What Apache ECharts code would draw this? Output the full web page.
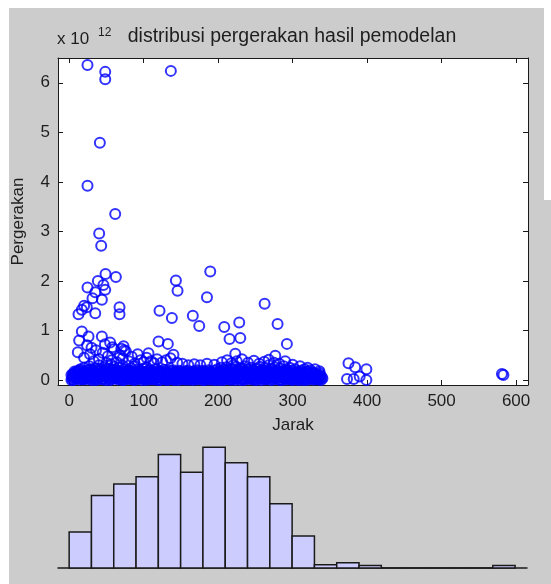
<!DOCTYPE html>
<html>
<head>
<meta charset="utf-8">
<script src="https://cdn.jsdelivr.net/npm/echarts@6/dist/echarts.min.js"></script>
<style>
html,body{margin:0;padding:0;background:#fff;}
#c{width:551px;height:584px;}
</style>
</head>
<body>
<div id="c"></div>
<script>
// Pergerakan values are in units of 1e12
var outliers = [
 [24.6,6.36],[48.4,6.22],[48.4,6.07],[136.5,6.24],[41.2,4.79],[24.6,3.92],[61.8,3.35],
 [40.3,2.96],[43,2.71],[48.8,2.14],[62.7,2.08],[38.5,2.0],[24.6,1.87],[46,1.92],[48.4,1.82],
 [35,1.77],[43.9,1.62],[31.3,1.65],[67.6,1.47],[67.6,1.33],[20.1,1.5],[12.5,1.33],[17,1.42],
 [23.7,1.47],[35,1.35],[121.3,1.4],[137.9,1.25],[143.3,2.01],[145.5,1.8],[166,1.3],[174.6,1.09],
 [185,1.67],[189.4,2.19],[17,0.98],[13.4,0.8],[26,0.88],[43.9,0.88],[11.6,0.56],[55,0.76],
 [73,0.68],[120,0.78],[132.5,0.73],[140,0.51],[106.5,0.54],[262.4,1.54],[208.2,1.07],
 [228.3,1.16],[215.3,0.83],[229.7,0.85],[279.8,1.13],[292.3,0.73],[223,0.53],[276.7,0.49],
 [375,0.34],[384,0.26],[373,0.02],[382,0.02],[399,0.22],[399,0.0],[390,0.07],[581,0.12],[583,0.10]
];
var midPoints = [
 [20,0.45],[28,0.52],[33,0.38],[36,0.60],[40,0.42],[45,0.55],[50,0.35],[52,0.48],[57,0.40],
 [60,0.62],[64,0.36],[68,0.50],[72,0.44],[76,0.58],[80,0.38],[84,0.47],[88,0.33],[92,0.52],
 [96,0.40],[100,0.36],[104,0.45],[110,0.38],[114,0.34],[118,0.42],[125,0.36],[130,0.40],
 [136,0.44],[145,0.35],[152,0.33],[160,0.30],[168,0.32],[176,0.30],[185,0.33],[195,0.31],
 [205,0.36],[212,0.40],[218,0.34],[225,0.38],[232,0.42],[240,0.35],[248,0.39],[255,0.33],
 [262,0.37],[268,0.41],[275,0.35],[282,0.33],[290,0.38],[300,0.31],[310,0.28],[320,0.25],
 [330,0.22],[336,0.18],[24,0.70],[30,0.65],[48,0.72],[58,0.66],[70,0.63],[74,0.60]
];
var densePoints = [
 [4,0.02],[5,0.09],[5,0.05],[6,0.00],[7,0.13],[8,0.07],[10,0.03],[11,0.18],[12,0.10],
 [14,0.01],[15,0.22],[16,0.12],[18,0.05],[19,0.16],[20,0.25],[22,0.02],[23,0.11],[24,0.20],
 [26,0.07],[27,0.28],[28,0.15],[30,0.00],[31,0.19],[32,0.10],[34,0.04],[35,0.24],[36,0.13],
 [38,0.01],[39,0.17],[40,0.30],[42,0.06],[43,0.21],[44,0.11],[46,0.03],[47,0.26],[48,0.14],
 [50,0.00],[51,0.18],[52,0.09],[54,0.05],[55,0.23],[56,0.32],[58,0.02],[59,0.15],[60,0.27],
 [62,0.07],[63,0.20],[64,0.12],[66,0.01],[67,0.25],[68,0.10],[70,0.04],[71,0.17],[72,0.29],
 [74,0.00],[75,0.22],[76,0.13],[78,0.06],[79,0.19],[80,0.08],[82,0.02],[83,0.24],[84,0.14],
 [86,0.05],[87,0.16],[88,0.28],[90,0.01],[91,0.21],[92,0.11],[94,0.03],[95,0.18],[96,0.09],
 [98,0.00],[99,0.23],[100,0.13],[102,0.06],[103,0.15],[104,0.26],[106,0.02],[107,0.20],[108,0.10],
 [110,0.04],[111,0.17],[112,0.12],[114,0.01],[115,0.22],[116,0.08],[118,0.05],[119,0.14],[120,0.19],
 [122,0.00],[123,0.18],[124,0.11],[126,0.03],[127,0.21],[128,0.09],[130,0.06],[131,0.16],[132,0.12],
 [134,0.01],[135,0.19],[136,0.08],[138,0.04],[139,0.14],[140,0.20],[142,0.00],[143,0.17],[144,0.10],
 [146,0.05],[147,0.12],[148,0.19],[150,0.02],[151,0.16],[152,0.09],[154,0.06],[155,0.13],[156,0.18],
 [158,0.01],[159,0.19],[160,0.10],[162,0.03],[163,0.15],[164,0.08],[166,0.00],[167,0.18],[168,0.12],
 [170,0.05],[171,0.14],[172,0.20],[174,0.02],[175,0.17],[176,0.09],[178,0.04],[179,0.12],[180,0.19],
 [182,0.00],[183,0.16],[184,0.10],[186,0.06],[187,0.20],[188,0.13],[190,0.01],[191,0.15],[192,0.09],
 [194,0.03],[195,0.19],[196,0.12],[198,0.05],[199,0.22],[200,0.10],[202,0.00],[203,0.17],[204,0.25],
 [206,0.04],[207,0.21],[208,0.12],[210,0.02],[211,0.26],[212,0.15],[214,0.06],[215,0.19],[216,0.10],
 [218,0.01],[219,0.23],[220,0.30],[222,0.03],[223,0.16],[224,0.27],[226,0.05],[227,0.21],[228,0.11],
 [230,0.00],[231,0.24],[232,0.14],[234,0.04],[235,0.18],[236,0.28],[238,0.02],[239,0.22],[240,0.12],
 [242,0.06],[243,0.15],[244,0.25],[246,0.01],[247,0.20],[248,0.10],[250,0.03],[251,0.23],[252,0.13],
 [254,0.05],[255,0.17],[256,0.27],[258,0.00],[259,0.21],[260,0.11],[262,0.04],[263,0.25],[264,0.14],
 [266,0.02],[267,0.18],[268,0.30],[270,0.06],[271,0.22],[272,0.12],[274,0.01],[275,0.16],[276,0.26],
 [278,0.03],[279,0.20],[280,0.10],[282,0.05],[283,0.24],[284,0.13],[286,0.00],[287,0.18],[288,0.28],
 [290,0.04],[291,0.21],[292,0.11],[294,0.02],[295,0.15],[296,0.25],[298,0.06],[299,0.19],[300,0.09],
 [302,0.01],[303,0.22],[304,0.12],[306,0.03],[307,0.16],[308,0.08],[310,0.05],[311,0.19],[312,0.11],
 [314,0.00],[315,0.14],[316,0.22],[318,0.04],[319,0.17],[320,0.09],[322,0.02],[323,0.12],[324,0.20],
 [326,0.05],[327,0.15],[328,0.08],[330,0.01],[331,0.11],[332,0.06],[334,0.03],[335,0.09],[336,0.14],
 [338,0.00],[339,0.06],[340,0.03]
];
var densePoints2 = [
 [5,0.12],[9,0.04],[9,0.16],[13,0.07],[13,0.19],[17,0.02],[17,0.13],[21,0.08],[21,0.17],[25,0.04],
 [25,0.13],[29,0.09],[29,0.22],[33,0.06],[33,0.16],[37,0.03],[37,0.12],[41,0.09],[41,0.18],[45,0.01],
 [45,0.14],[49,0.07],[49,0.22],[53,0.03],[53,0.12],[57,0.08],[57,0.19],[61,0.04],[61,0.15],[65,0.06],
 [65,0.18],[69,0.02],[69,0.12],[73,0.08],[73,0.17],[77,0.03],[77,0.14],[81,0.09],[81,0.19],[85,0.01],
 [85,0.11],[89,0.06],[89,0.16],[93,0.03],[93,0.14],[97,0.07],[97,0.18],[101,0.02],[101,0.11],[105,0.08],
 [105,0.15],[109,0.01],[109,0.13],[113,0.05],[113,0.17],[117,0.02],[117,0.10],[121,0.07],[121,0.15],[125,0.04],
 [125,0.13],[129,0.01],[129,0.10],[133,0.05],[133,0.14],[137,0.02],[137,0.11],[141,0.07],[141,0.15],[145,0.03],
 [145,0.09],[149,0.06],[149,0.13],[153,0.02],[153,0.10],[157,0.05],[157,0.14],[161,0.01],[161,0.12],[165,0.06],
 [165,0.15],[169,0.02],[169,0.10],[173,0.07],[173,0.13],[177,0.03],[177,0.15],[181,0.06],[181,0.12],[185,0.02],
 [185,0.14],[189,0.08],[189,0.17],[193,0.04],[193,0.10],[197,0.01],[197,0.14],[201,0.07],[201,0.12],[205,0.02],
 [205,0.15],[209,0.08],[209,0.19],[213,0.04],[213,0.13],[217,0.01],[217,0.16],[221,0.07],[221,0.20],[225,0.03],
 [225,0.14],[229,0.08],[229,0.18],[233,0.02],[233,0.11],[237,0.06],[237,0.16],[241,0.03],[241,0.20],[245,0.07],
 [245,0.14],[249,0.01],[249,0.17],[253,0.08],[253,0.12],[257,0.03],[257,0.15],[261,0.07],[261,0.19],[265,0.02],
 [265,0.10],[269,0.09],[269,0.16],[273,0.04],[273,0.20],[277,0.07],[277,0.14],[281,0.01],[281,0.17],[285,0.08],
 [285,0.12],[289,0.03],[289,0.15],[293,0.07],[293,0.19],[297,0.02],[297,0.12],[301,0.08],[301,0.16],[305,0.04],
 [305,0.13],[309,0.01],[309,0.15],[313,0.07],[313,0.11],[317,0.02],[317,0.13],[321,0.06],[321,0.16],[325,0.03],
 [325,0.11],[329,0.08],[329,0.14],[333,0.02],[333,0.06],[337,0.10],[337,0.04]
];
var densePoints3 = [
 [3,0.00],[3,0.10],[7,0.05],[7,0.17],[11,0.12],[11,0.03],[15,0.08],[15,0.20],[19,0.01],[19,0.11],
 [23,0.06],[23,0.15],[27,0.02],[27,0.21],[31,0.09],[31,0.04],[35,0.14],[35,0.00],[39,0.07],[39,0.22],
 [43,0.02],[43,0.13],[47,0.09],[47,0.18],[51,0.05],[51,0.13],[55,0.00],[55,0.16],[59,0.08],[59,0.21],
 [63,0.03],[63,0.14],[67,0.07],[67,0.17],[71,0.00],[71,0.10],[75,0.05],[75,0.16],[79,0.02],[79,0.12],
 [83,0.07],[83,0.18],[87,0.00],[87,0.09],[91,0.04],[91,0.15],[95,0.08],[95,0.20],[99,0.03],[99,0.12],
 [103,0.00],[103,0.09],[107,0.05],[107,0.15],[111,0.08],[111,0.02],[115,0.12],[115,0.04],[119,0.08],[119,0.00],
 [123,0.06],[123,0.14],[127,0.02],[127,0.12],[131,0.08],[131,0.00],[135,0.04],[135,0.13],[139,0.09],[139,0.01],
 [143,0.06],[143,0.13],[147,0.00],[147,0.08],[151,0.05],[151,0.12],[155,0.01],[155,0.09],[159,0.06],[159,0.14],
 [163,0.02],[163,0.11],[167,0.07],[167,0.15],[171,0.01],[171,0.09],[175,0.05],[175,0.13],[179,0.00],[179,0.08],
 [183,0.04],[183,0.12],[187,0.01],[187,0.09],[191,0.06],[191,0.12],[195,0.00],[195,0.08],[199,0.03],[199,0.15],
 [203,0.06],[203,0.11],[207,0.00],[207,0.08],[211,0.05],[211,0.12],[215,0.01],[215,0.14],[219,0.06],[219,0.10],
 [223,0.00],[223,0.09],[227,0.07],[227,0.16],[231,0.03],[231,0.10],[235,0.00],[235,0.12],[239,0.07],[239,0.16],
 [243,0.02],[243,0.10],[247,0.06],[247,0.14],[251,0.00],[251,0.09],[255,0.04],[255,0.12],[259,0.07],[259,0.16],
 [263,0.01],[263,0.09],[267,0.06],[267,0.12],[271,0.00],[271,0.16],[275,0.04],[275,0.10],[279,0.07],[279,0.14],
 [283,0.00],[283,0.09],[287,0.05],[287,0.12],[291,0.01],[291,0.15],[295,0.07],[295,0.10],[299,0.00],[299,0.14],
 [303,0.05],[303,0.09],[307,0.00],[307,0.12],[311,0.07],[311,0.15],[315,0.03],[315,0.09],[319,0.00],[319,0.12],
 [323,0.06],[323,0.09],[327,0.01],[327,0.12],[331,0.04],[331,0.08],[335,0.01],[335,0.06]
];
var binStarts = [0,30,60,90,120,150,180,210,240,270,300,330,360,390,420,450,480,510,540,570];
var binCounts = [56,113,131,142,177,149,188,164,142,100,50,5,8,4,0,0,0,0,0,4];
var xTicks = [0,100,200,300,400,500,600];
var yTicks = [0,1,2,3,4,5,6];

var FONT = '"Liberation Sans", Arial, sans-serif';
var TXT = '#1e1e1e';
var X_MIN = -15, X_MAX = 616;
var histData = binStarts.map(function(s, i){ return [s, s + 30, binCounts[i]]; });

var chart = echarts.init(document.getElementById('c'), null, {renderer:'canvas'});
var axisLine = {show:true, onZero:false, lineStyle:{color:'#1a1a1a', width:1}};
var tickIn = {show:true, inside:true, length:5, lineStyle:{color:'#1a1a1a', width:1}};
function fmtX(v){ return xTicks.indexOf(v) >= 0 ? String(v) : ''; }
function fmtY(v){ var r = Math.round(v*1000)/1000; return yTicks.indexOf(r) >= 0 ? String(r) : ''; }

chart.setOption({
  backgroundColor: '#ffffff',
  animation: false,
  graphic: [
    {type:'rect', z:-10, silent:true, shape:{x:9, y:8, width:542, height:576}, style:{fill:'#cccccc'}},
    {type:'rect', z:-9, silent:true, shape:{x:544, y:0, width:7, height:200}, style:{fill:'#ffffff'}},
    {type:'text', left:57, top:31, style:{text:'x 10', font:'17px ' + FONT, fill:TXT}},
    {type:'text', left:98, top:27, style:{text:'12', font:'12px ' + FONT, fill:TXT}},
    {type:'text', x:292, y:37, style:{text:'distribusi pergerakan hasil pemodelan', font:'19.5px ' + FONT, fill:TXT, align:'center', verticalAlign:'middle'}}
  ],
  grid: [
    {left:58, top:58, right:23, height:327, show:true, backgroundColor:'#ffffff', borderWidth:0},
    {left:58, top:430, right:24, bottom:16, show:false}
  ],
  xAxis: [
    {gridIndex:0, type:'value', min:X_MIN, max:X_MAX, splitNumber:6, position:'bottom',
     axisLine:axisLine, axisTick:tickIn, splitLine:{show:false},
     axisLabel:{color:TXT, fontSize:17, fontFamily:FONT, margin:8, formatter:fmtX, showMinLabel:false, showMaxLabel:false},
     name:'Jarak', nameLocation:'middle', nameGap:32, nameTextStyle:{color:TXT, fontSize:17, fontFamily:FONT}},
    {gridIndex:0, type:'value', min:X_MIN, max:X_MAX, splitNumber:6, position:'top',
     axisLine:axisLine, axisTick:tickIn, splitLine:{show:false}, axisLabel:{show:false}},
    {gridIndex:1, type:'value', min:X_MIN, max:X_MAX, position:'bottom',
     axisLine:{show:true, onZero:false, lineStyle:{color:'#1a1a1a', width:1.5}}, axisTick:{show:false}, splitLine:{show:false}, axisLabel:{show:false}}
  ],
  yAxis: [
    {gridIndex:0, type:'value', min:-0.1, max:6.5, splitNumber:6, position:'left',
     axisLine:axisLine, axisTick:tickIn, splitLine:{show:false},
     axisLabel:{color:TXT, fontSize:17, fontFamily:FONT, margin:8, formatter:fmtY, showMinLabel:false, showMaxLabel:false},
     name:'Pergerakan', nameLocation:'middle', nameGap:31, nameRotate:90, nameTextStyle:{color:TXT, fontSize:17, fontFamily:FONT}},
    {gridIndex:0, type:'value', min:-0.1, max:6.5, splitNumber:6, position:'right',
     axisLine:axisLine, axisTick:tickIn, splitLine:{show:false}, axisLabel:{show:false}},
    {gridIndex:1, type:'value', min:0, max:215, show:false}
  ],
  series: [
    {type:'scatter', xAxisIndex:0, yAxisIndex:0, data: densePoints.concat(densePoints2, densePoints3, midPoints, outliers),
     symbol:'circle', symbolSize:10, clip:true, silent:true, large:false,
     itemStyle:{color:'rgba(0,0,0,0)', borderColor:'#0000ff', borderWidth:2}},
    {type:'custom', xAxisIndex:2, yAxisIndex:2, data: histData, silent:true,
     renderItem: function(params, api){
       var a = api.coord([api.value(0), api.value(2)]);
       var b = api.coord([api.value(1), 0]);
       return {type:'rect', shape:{x:a[0], y:a[1], width:b[0]-a[0], height:b[1]-a[1]},
               style:{fill:'#ccccff', stroke:'#1a1a1a', lineWidth:1.5}};
     }}
  ]
});
</script>
</body>
</html>
